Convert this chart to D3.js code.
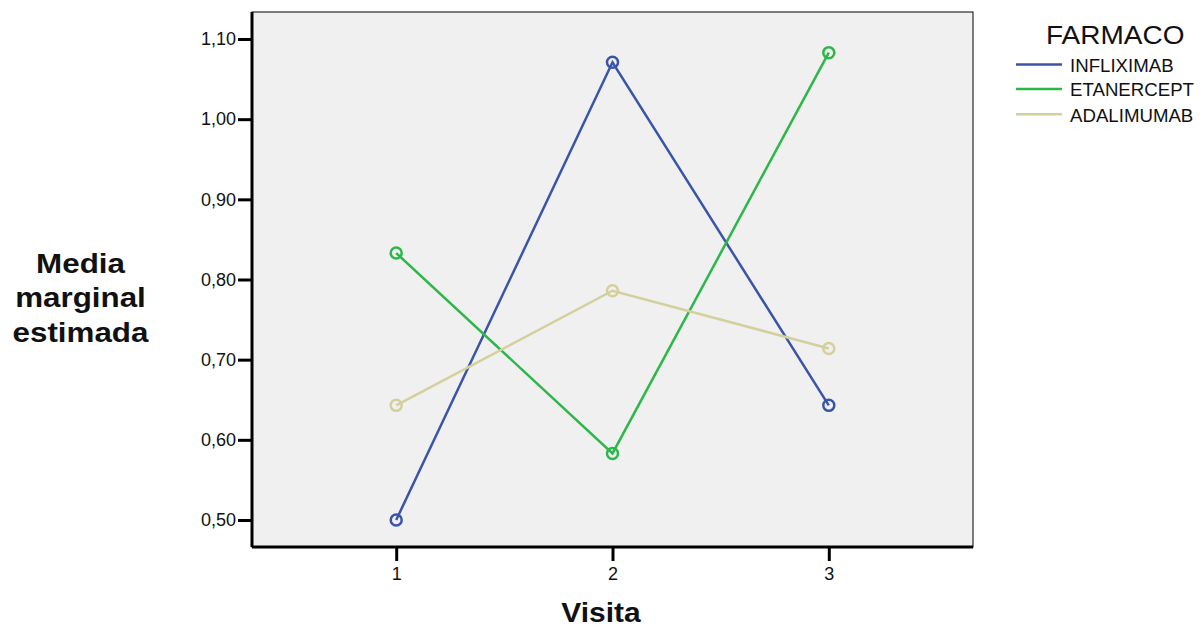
<!DOCTYPE html>
<html><head><meta charset="utf-8">
<script src="https://cdn.jsdelivr.net/npm/d3@7"></script>
<style>body{margin:0;background:#fff;} svg text{font-family:"Liberation Sans",Arial,sans-serif;}</style>
</head><body><svg id="c" width="1204" height="627"></svg>
<script>
const visits = [1, 2, 3];
const seriesNames = ["INFLIXIMAB", "ETANERCEPT", "ADALIMUMAB"];
const infliximab = [0.500, 1.071, 0.643];
const etanercept = [0.833, 0.583, 1.083];
const adalimumab = [0.643, 0.786, 0.714];
const yTicks = [0.5, 0.6, 0.7, 0.8, 0.9, 1.0, 1.1];
const colors = ["#3a55a8", "#2db74a", "#d4d09c"];

const svg = d3.select("#c");
const L = 252, R = 973, T = 12, B = 547;
const x = d3.scaleLinear().domain([1 - 2/3, 3 + 2/3]).range([L, R]);
const y = d3.scaleLinear().domain([0.4663, 1.1337]).range([B, T]);

svg.append("rect").attr("x", L).attr("y", T).attr("width", R - L).attr("height", B - T)
  .attr("fill", "#f0f0f0").attr("stroke", "#000").attr("stroke-width", 1);

const fmt = d => d.toFixed(2).replace(".", ",");
const ya = svg.append("g").attr("transform", `translate(${L},0)`)
  .call(d3.axisLeft(y).tickValues(yTicks).tickFormat(fmt).tickSize(14).tickPadding(2));
const xa = svg.append("g").attr("transform", `translate(0,${B})`)
  .call(d3.axisBottom(x).tickValues(visits).tickFormat(d3.format("d")).tickSize(14).tickPadding(6));
[ya, xa].forEach(a => {
  a.select(".domain").attr("stroke", "#000").attr("stroke-width", 3);
  a.selectAll(".tick line").attr("stroke", "#000").attr("stroke-width", 3);
  a.selectAll(".tick text").attr("font-size", 18).attr("font-family", "'Liberation Sans',Arial,sans-serif").attr("fill", "#111");
});
ya.select(".domain").attr("d", `M0,${T}V${B}`);
xa.select(".domain").attr("d", `M${L},0H${R}`);

const data = [infliximab, etanercept, adalimumab];
const line = d3.line().x((d, i) => x(visits[i])).y(d => y(d));
data.forEach((s, k) => {
  svg.append("path").attr("d", line(s)).attr("fill", "none").attr("stroke", colors[k]).attr("stroke-width", 2.5);
});
data.forEach((s, k) => {
  svg.selectAll(null).data(s).enter().append("circle")
    .attr("cx", (d, i) => x(visits[i])).attr("cy", d => y(d)).attr("r", 5.5)
    .attr("fill", "none").attr("stroke", colors[k]).attr("stroke-width", 2.5);
});

// Legend
svg.append("g").attr("transform", "translate(1046,43.5) scale(1.12,1)")
  .append("text").attr("font-size", 25).attr("fill", "#111").text("FARMACO");
const ly = [64.5, 89, 114.3];
seriesNames.forEach((n, k) => {
  svg.append("line").attr("x1", 1016).attr("x2", 1062).attr("y1", ly[k]).attr("y2", ly[k])
    .attr("stroke", colors[k]).attr("stroke-width", 2.5);
  svg.append("g").attr("transform", `translate(1070,${ly[k] + 7.2}) scale(1.06,1)`)
    .append("text").attr("font-size", 17.6).attr("fill", "#111").text(n);
});

// Axis titles
const yt = svg.append("g").attr("transform", "translate(80.5,0) scale(1.14,1)")
  .append("text").attr("text-anchor", "middle").attr("font-size", 27.5).attr("font-weight", "bold").attr("fill", "#111");
const ytBase = [273, 307.5, 342];
["Media", "marginal", "estimada"].forEach((t, i) => {
  yt.append("tspan").attr("x", 0).attr("y", ytBase[i]).text(t);
});
svg.append("g").attr("transform", "translate(601,622) scale(1.11,1)")
  .append("text").attr("text-anchor", "middle").attr("font-size", 27)
  .attr("font-weight", "bold").attr("fill", "#111").text("Visita");
</script></body></html>
